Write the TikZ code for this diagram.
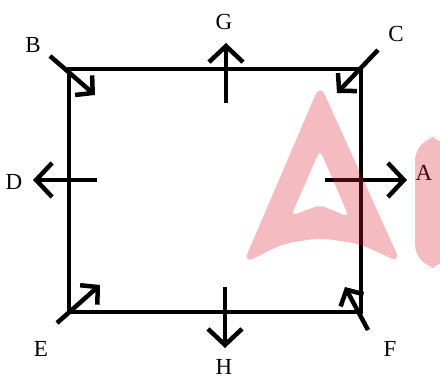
\documentclass[tikz,border=0pt]{standalone}
\usepackage{tikz}
\usetikzlibrary{arrows.meta}
\usepackage{xcolor}
\usepackage{fontspec}
\setmainfont{Liberation Serif}
\definecolor{wmark}{RGB}{220,30,45}

\begin{document}
\begin{tikzpicture}[
      x=1pt, y=-1pt,
      lbl/.style={inner sep=0pt, font=\fontsize{23}{23}\selectfont},
      edge/.style={line width=4.5pt, line cap=rect},
      arr/.style={-{Straight Barb[length=16pt,width=34pt]}, line width=4.5pt},
      carr/.style={-{Straight Barb[length=12pt,width=26pt]}, line width=4.5pt},
      wm/.style={fill=wmark, fill opacity=0.3, draw=none}
    ]
    \useasboundingbox (0,0) rectangle (440,379);
    % square
    \coordinate (tl) at (69,69);
    \coordinate (tr) at (361,69);
    \coordinate (br) at (361,312);
    \coordinate (bl) at (69,312);
    \draw[edge] (tl) -- (tr) -- (br) -- (bl) -- cycle;
    % arrow ends
    \coordinate (gs) at (226,103);  \coordinate (ge) at (226,43);
    \coordinate (hs) at (225,287);  \coordinate (he) at (225,348);
    \coordinate (ds) at (97,180);   \coordinate (de) at (33,180);
    \coordinate (as) at (325,180);  \coordinate (ae) at (407,180);
    \coordinate (bs) at (50,56);    \coordinate (be) at (95,95);
    \coordinate (cs) at (378,50);   \coordinate (ce) at (337,93);
    \coordinate (es) at (57,323);   \coordinate (ee) at (100,285);
    \coordinate (fs) at (368,330);  \coordinate (fe) at (345,287);
    \draw[arr] (gs) -- (ge);
    \draw[arr] (hs) -- (he);
    \draw[arr] (ds) -- (de);
    \draw[arr] (as) -- (ae);
    \draw[carr] (bs) -- (be);
    \draw[carr] (cs) -- (ce);
    \draw[carr] (es) -- (ee);
    \draw[carr] (fs) -- (fe);
    % labels
    \node[lbl] (G) at (224,22) {G};
    \node[lbl] (H) at (224,367) {H};
    \node[lbl] (D) at (14,182) {D};
    \node[lbl] (A) at (424,173) {A};
    \node[lbl] (B) at (33,45) {B};
    \node[lbl] (C) at (396,34) {C};
    \node[lbl] (E) at (41,349) {E};
    \node[lbl] (F) at (390,349) {F};
    % watermark
    \path[wm, even odd rule, rounded corners=12pt]
      (243,264) -- (320,84) -- (401,263) -- (360,244) -- (320,238) -- (282,244) -- cycle
      [rounded corners=6pt] (291,216) -- (320,150) -- (349,217) -- (320,205) -- cycle;
    \path[wm, rounded corners=24pt] (450,137) -- (415,137) -- (415,268) -- (450,268) -- cycle;
  \end{tikzpicture}
\end{document}
